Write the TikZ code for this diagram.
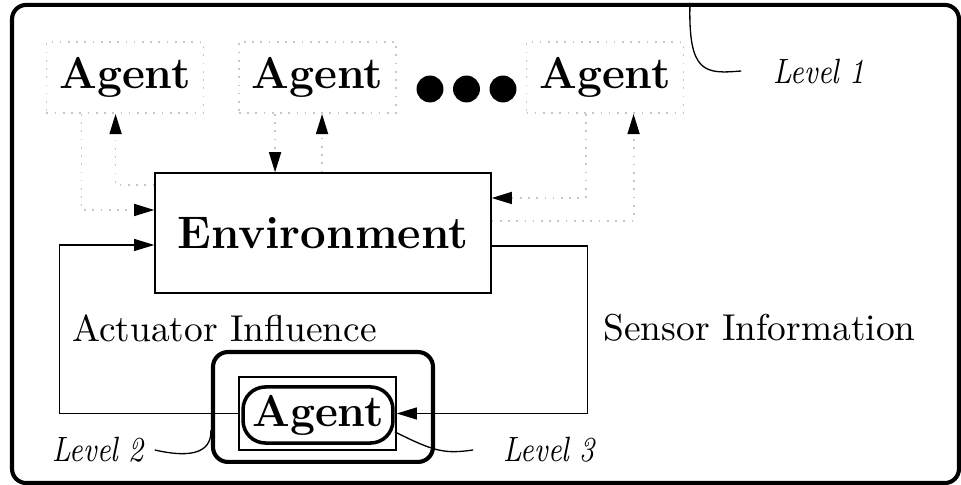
\documentclass[tikz,border=0pt]{standalone}
\usetikzlibrary{arrows.meta,calc}

\begin{document}
\begin{tikzpicture}[x=0.2675pt, y=-0.2675pt,
  dot_line/.style={draw=gray!45, line width=0.5pt, dash pattern=on 0.45pt off 1.75pt},
  dot_arrow/.style={dot_line, -{Triangle[length=5.4pt, width=3.2pt, black]}},
  solid_arrow/.style={line width=0.35pt, -{Triangle[length=5.4pt, width=3.2pt]}},
  big_font/.style={font=\fontsize{11.9}{14}\selectfont\bfseries},
  level_font/.style={font=\fontsize{9.4}{11}\selectfont\itshape, inner sep=0pt, anchor=west},
  frame_box/.style={draw, line width=1.1pt, rounded corners=3.8pt, minimum width=253.3pt, minimum height=127.9pt},
  agent_box/.style={dot_line, big_font, minimum width=42pt, minimum height=19pt, inner sep=0pt},
  env_box/.style={draw, line width=0.35pt, font=\fontsize{12.2}{14}\selectfont\bfseries, minimum width=89.9pt, minimum height=32.1pt, inner sep=0pt},
  big_dot/.style={circle, fill, minimum size=7.2pt, inner sep=0pt},
  wrap_box/.style={draw, line width=0.35pt, minimum width=42pt, minimum height=19.5pt, inner sep=0pt},
  agent_round/.style={draw, line width=0.95pt, rounded corners=6pt, big_font, minimum width=40.1pt, minimum height=15pt, inner sep=0pt},
  level_box/.style={draw, line width=1.1pt, rounded corners=4pt, minimum width=58.85pt, minimum height=29.4pt}]

\useasboundingbox (0,0) rectangle (961,485);

\node[frame_box] (frame) at (485.5,244) {};

\node[agent_box] (ag1) at (125,77.5) {Agent};
\node[agent_box] (ag2) at (317.5,77.5) {Agent};
\node[agent_box] (ag3) at (605,77.5) {Agent};
\foreach \i/\px in {1/430,2/466.5,3/503}
  \node[big_dot] (dot\i) at (\px,89) {};

\node[env_box] (env) at (323,233) {Environment};

\node[level_box] (lvl2) at (323,407) {};
\node[wrap_box] (wrap) at (317.5,413.5) {};
\node[agent_round] (agt) at (318,415) {Agent};

\node at (224.5,328) {Actuator Influence};
\node at (759.5,328) {Sensor Information};

\node[level_font] (lv1) at (773,71) {\scalebox{0.82}[1]{Level 1}};
\node[level_font] (lv2) at (52,450) {\scalebox{0.82}[1]{Level 2}};
\node[level_font] (lv3) at (503,450) {\scalebox{0.82}[1]{Level 3}};

\coordinate (a1out) at ($(ag1.south west)+(36,0)$);
\coordinate (a1in) at ($(ag1.south west)+(70,0)$);
\coordinate (a2out) at ($(ag2.south west)+(37,0)$);
\coordinate (a2in) at ($(ag2.south west)+(84,0)$);
\coordinate (a3out) at ($(ag3.south west)+(60,0)$);
\coordinate (a3in) at ($(ag3.south west)+(108,0)$);

\draw[dot_arrow] (a1out) |- ($(env.west)+(0,-23)$);
\draw[dot_arrow] ($(env.west)+(0,-48)$) -| (a1in);
\draw[dot_arrow] (a2out) -- (a2out |- env.north);
\draw[dot_arrow] (a2in |- env.north) -- (a2in);
\draw[dot_arrow] (a3out) |- ($(env.east)+(0,-35)$);
\draw[dot_arrow] ($(env.east)+(0,-12)$) -| (a3in);

\draw[solid_arrow] ($(env.east)+(0,13)$) -- ++(96,0) |- (wrap.east);
\draw[solid_arrow] (wrap.west) -- ++(-179,0) |- ($(env.west)+(0,12)$);

\draw[line width=0.35pt] ($(frame.north west)+(680,0)$) .. controls (688,74) and (705,74) .. ([xshift=-8.5pt]lv1.west);
\draw[line width=0.35pt] ([xshift=2.7pt]lv2.east) .. controls (185,457) and (212,456) .. ([yshift=-6.1pt]lvl2.west);
\draw[line width=0.35pt] ([xshift=-8pt]lv3.west) .. controls (445,454) and (435,452) .. ([yshift=-4.5pt]agt.east);

\end{tikzpicture}
\end{document}
